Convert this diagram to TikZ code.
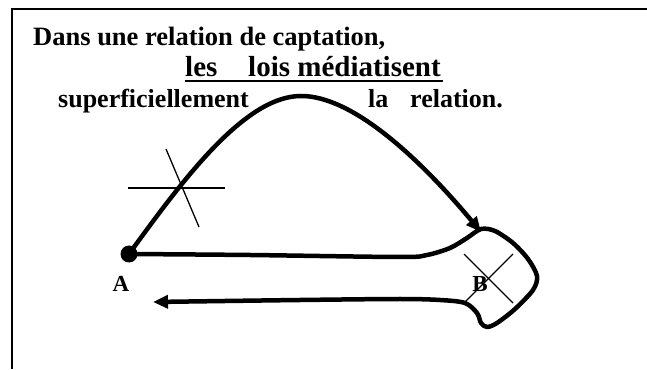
\documentclass[tikz,border=0pt]{standalone}
\usepackage{fontspec}
\setmainfont{Liberation Serif}
\usetikzlibrary{arrows.meta}
\tikzset{
  thick curve/.style={line width=4.5pt, line cap=round, line join=round},
  thin cross/.style={line width=1.3pt},
  big tip/.style={-{Triangle[length=15pt,width=13pt]}},
  words/.style={inner sep=0pt, anchor=base west, font=\bfseries\fontsize{#1}{#1}\selectfont},
  label/.style={inner sep=0pt, font=\bfseries\fontsize{23}{23}\selectfont},
  frame/.style={line width=2pt}
}
\begin{document}
\begin{tikzpicture}[x=1pt,y=1pt]
\useasboundingbox (0,0) rectangle (647,369);
% frame (cut at right and bottom)
\coordinate (fTR) at (647,360);
\coordinate (fTL) at (12,360);
\coordinate (fBL) at (12,0);
\draw[frame] (fTR) -- (fTL) -- (fBL);

% texts
\node[words=26.5] (l1) at (33,323) {Dans une relation de captation,};
\node[words=29] (l2a) at (185,292) {les};
\node[words=29] (l2b) at (248,292) {lois médiatisent};
\coordinate (ulS) at (185,287.5);
\coordinate (ulE) at (443,287.5);
\draw[line width=2pt] (ulS) -- (ulE);
\node[words=26] (l3a) at (58,261) {superficiellement};
\node[words=26] (l3b) at (368,261) {la};
\node[words=26] (l3c) at (410,261) {relation.};

% point A
\node[circle, fill=black, minimum size=17pt, inner sep=0pt] (A) at (129,115) {};
\node[label] (Alab) at (121,85) {A};
\node[label] (Blab) at (480,85) {B};

% upper arc from A to B
\coordinate (peak) at (300,273);
\coordinate (Btop) at (481,137);
\draw[thick curve, big tip] (A.center) .. controls (180,185) and (243,272) .. (peak)
  .. controls (352,274) and (420,210) .. (Btop);

% cross on the arc
\coordinate (c1) at (128,181);
\coordinate (c2) at (225,181);
\coordinate (c3) at (166,220);
\coordinate (c4) at (199,142);
\draw[thin cross] (c1) -- (c2);
\draw[thin cross] (c3) -- (c4);

% blob around B and return arrow
\coordinate (ret) at (153,67);
\draw[thick curve, big tip] plot[smooth, tension=0.5] coordinates {
 (A.center) (250,114) (400,112) (427,114) (450,121) (467,131) (481,140) (495,138)
 (513,126) (528,110) (537,93) (533,79) (515,60) (497,46) (487,42) (481,46)
 (477,56) (465,66) (440,69) (400,70) (300,69) (ret)};

% cross at B
\coordinate (x1) at (464,115);
\coordinate (x2) at (513,66);
\coordinate (x3) at (513,115);
\coordinate (x4) at (464,66);
\draw[thin cross] (x1) -- (x2);
\draw[thin cross] (x3) -- (x4);
\end{tikzpicture}
\end{document}
